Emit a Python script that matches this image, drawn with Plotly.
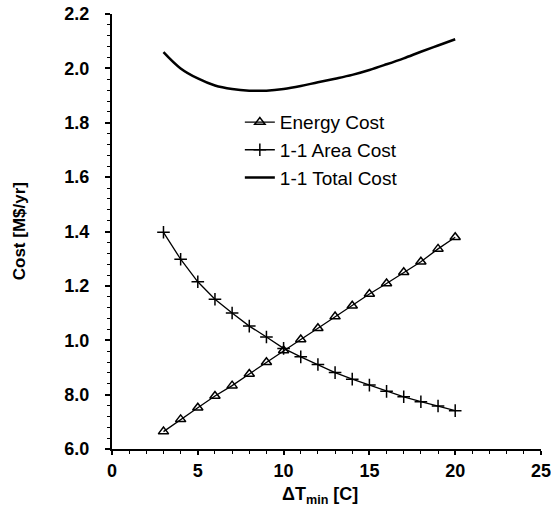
import plotly.graph_objects as go

dt_min = [3, 4, 5, 6, 7, 8, 9, 10, 11, 12, 13, 14, 15, 16, 17, 18, 19, 20]
energy_cost = [0.664, 0.709, 0.752, 0.795, 0.833, 0.876, 0.919, 0.962, 1.003, 1.044,
               1.087, 1.127, 1.170, 1.209, 1.250, 1.289, 1.336, 1.379]
area_cost = [1.397, 1.298, 1.215, 1.151, 1.100, 1.052, 1.012, 0.970, 0.939, 0.911,
             0.881, 0.857, 0.835, 0.812, 0.792, 0.774, 0.758, 0.741]
total_cost = [2.060, 2.000, 1.963, 1.937, 1.924, 1.918, 1.918, 1.924, 1.935, 1.949,
              1.962, 1.976, 1.994, 2.015, 2.037, 2.061, 2.084, 2.107]

y_tickvals = [0.6, 0.8, 1.0, 1.2, 1.4, 1.6, 1.8, 2.0, 2.2]
y_ticktext = ["6.0", "8.0", "1.0", "1.2", "1.4", "1.6", "1.8", "2.0", "2.2"]
x_tickvals = [0, 5, 10, 15, 20, 25]
x_ticktext = ["0", "5", "10", "15", "20", "25"]

FONT = "Arial, Liberation Sans, sans-serif"

fig = go.Figure()
fig.add_trace(go.Scatter(
    x=dt_min, y=energy_cost, name="Energy Cost", mode="lines+markers",
    line=dict(color="black", width=1.3),
    marker=dict(symbol="triangle-up-open", size=9, color="black", line=dict(width=1.5, color="black")),
))
fig.add_trace(go.Scatter(
    x=dt_min, y=area_cost, name="1-1 Area Cost", mode="lines+markers",
    line=dict(color="black", width=1.3),
    marker=dict(symbol="cross-thin", size=9, color="black", line=dict(width=1.5, color="black")),
))
fig.add_trace(go.Scatter(
    x=dt_min, y=total_cost, name="1-1 Total Cost", mode="lines",
    line=dict(color="black", width=2.5, shape="spline"),
))

fig.update_layout(
    width=551, height=514,
    margin=dict(l=112, r=10, t=14, b=65),
    paper_bgcolor="white", plot_bgcolor="white",
    font=dict(family=FONT, color="black"),
    showlegend=True,
    legend=dict(x=0.298, y=0.795, xanchor="left", yanchor="top",
                bgcolor="rgba(0,0,0,0)", font=dict(size=19, family=FONT),
                tracegroupgap=0),
    xaxis=dict(range=[0, 25], tickvals=x_tickvals,
               ticktext=["<b>%s</b>" % t for t in x_ticktext],
               showgrid=False, zeroline=False, automargin=False,
               showline=True, linecolor="black", linewidth=2,
               ticks="outside", ticklen=4, tickwidth=1.5, tickcolor="black",
               ticklabeloverflow="allow",
               tickfont=dict(size=18, family=FONT),
               minor=dict(dtick=1, ticks="outside", ticklen=3, tickwidth=1.2, tickcolor="black")),
    yaxis=dict(range=[0.6, 2.2], tickvals=y_tickvals,
               ticktext=["<b>%s</b>" % t for t in y_ticktext],
               showgrid=False, zeroline=False, automargin=False,
               showline=True, linecolor="black", linewidth=2,
               ticks="outside", ticklen=5, tickwidth=1.5, tickcolor="black",
               ticklabelstandoff=12, ticklabeloverflow="allow",
               tickfont=dict(size=18, family=FONT),
               minor=dict(dtick=0.04, tick0=0.6, ticks="outside", ticklen=3, tickwidth=1.2, tickcolor="black")),
    annotations=[
        dict(text="<b>Cost [M$/yr]</b>", xref="paper", yref="paper", x=-0.215, y=0.5,
             xanchor="center", yanchor="middle", textangle=-90, showarrow=False,
             font=dict(size=17, family=FONT)),
        dict(text="<b>ΔT<sub>min</sub> [C]</b>", xref="paper", yref="paper", x=0.485, y=-0.108,
             xanchor="center", yanchor="middle", showarrow=False,
             font=dict(size=18, family=FONT)),
    ],
)

fig.write_html("out.html", config={"displayModeBar": False},
               post_script="document.body.style.margin='0';")
